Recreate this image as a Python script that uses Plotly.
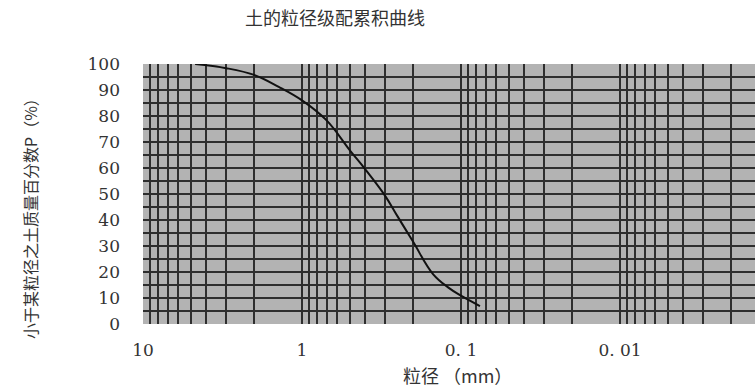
import plotly.graph_objects as go

# ---- data ----
diameter_mm = [4.7, 3.0, 2.0, 1.4, 1.0, 0.7, 0.5, 0.4, 0.3, 0.25, 0.2, 0.15, 0.12, 0.1, 0.076]
percent_finer = [100, 98.4, 95.8, 91.2, 86.0, 78.3, 66.8, 59.5, 49.3, 41.3, 31.6, 19.2, 14.0, 10.9, 6.9]

x_major_vals = [10, 1, 0.1, 0.01, 0.001]
x_major_text = ["10", "1", "0. 1", "0. 01", "0. 001"]
y_tick_vals = [0, 10, 20, 30, 40, 50, 60, 70, 80, 90, 100]

title_text = "土的粒径级配累积曲线"
x_title = "粒径 （mm）"
y_title = "小于某粒径之土质量百分数P（%）"

# minor grid positions (2..9 per decade)
x_minor_vals = [m * 10.0 ** k for k in range(-3, 1) for m in range(2, 10)]

W, H = 755, 392
L, R, T, B = 143, 0, 64, 68
plot_w = W - L - R
plot_h = H - T - B

# axis range: 10 mm at the left edge, decade width ~159 px
decade_px = 159.0
x_left_log = 1.0
x_right_log = x_left_log - plot_w / decade_px

GRID = "#2e2e2e"
BG = "#b3b3b3"
TXT = "#333333"
NUMFONT = "DejaVu Serif, Noto Sans CJK SC, serif"
CJK = "Noto Sans CJK SC, sans-serif"

fig = go.Figure()
fig.add_trace(go.Scatter(
    x=diameter_mm, y=percent_finer, mode="lines",
    line=dict(color="#111111", width=2, shape="spline", smoothing=1.1),
    showlegend=False, hoverinfo="x+y",
))

fig.update_layout(
    width=W, height=H,
    margin=dict(l=L, r=R, t=T, b=B, pad=0),
    paper_bgcolor="white",
    plot_bgcolor=BG,
    title=dict(text=title_text, x=335 / W, xanchor="center", xref="container",
               y=1 - 19 / H, yanchor="middle", yref="container",
               font=dict(family=CJK, size=18, color=TXT)),
    xaxis=dict(
        type="log",
        range=[x_left_log, x_right_log],
        tickmode="array", tickvals=x_major_vals, ticktext=x_major_text,
        showgrid=True, gridcolor=GRID, gridwidth=1.6,
        minor=dict(tickmode="array", tickvals=x_minor_vals, showgrid=True,
                   gridcolor=GRID, gridwidth=1.6, ticks=""),
        zeroline=False, showline=False, ticks="",
        ticklabelstandoff=14,
        tickfont=dict(family=NUMFONT, size=17, color=TXT),
    ),
    yaxis=dict(
        range=[0, 100],
        tickmode="array", tickvals=y_tick_vals,
        showgrid=True, gridcolor=GRID, gridwidth=1.6,
        minor=dict(dtick=5, showgrid=True, gridcolor=GRID, gridwidth=1.6, ticks=""),
        zeroline=False, showline=False, ticks="",
        ticklabelstandoff=22,
        tickfont=dict(family=NUMFONT, size=17, color=TXT),
    ),
    annotations=[
        dict(text=x_title, xref="paper", yref="paper",
             x=(457 - L) / plot_w, y=-(375 - (T + plot_h)) / plot_h,
             xanchor="center", yanchor="middle", showarrow=False,
             font=dict(family=CJK, size=18, color=TXT)),
        dict(text=y_title, xref="paper", yref="paper",
             x=(30 - L) / plot_w, y=((T + plot_h) - 215) / plot_h,
             xanchor="center", yanchor="middle", showarrow=False, textangle=-90,
             font=dict(family=CJK, size=16, color=TXT)),
    ],
)

fig.write_html("out.html",
               config={"displayModeBar": False},
               post_script="document.body.style.margin='0';document.body.style.overflow='hidden';")
